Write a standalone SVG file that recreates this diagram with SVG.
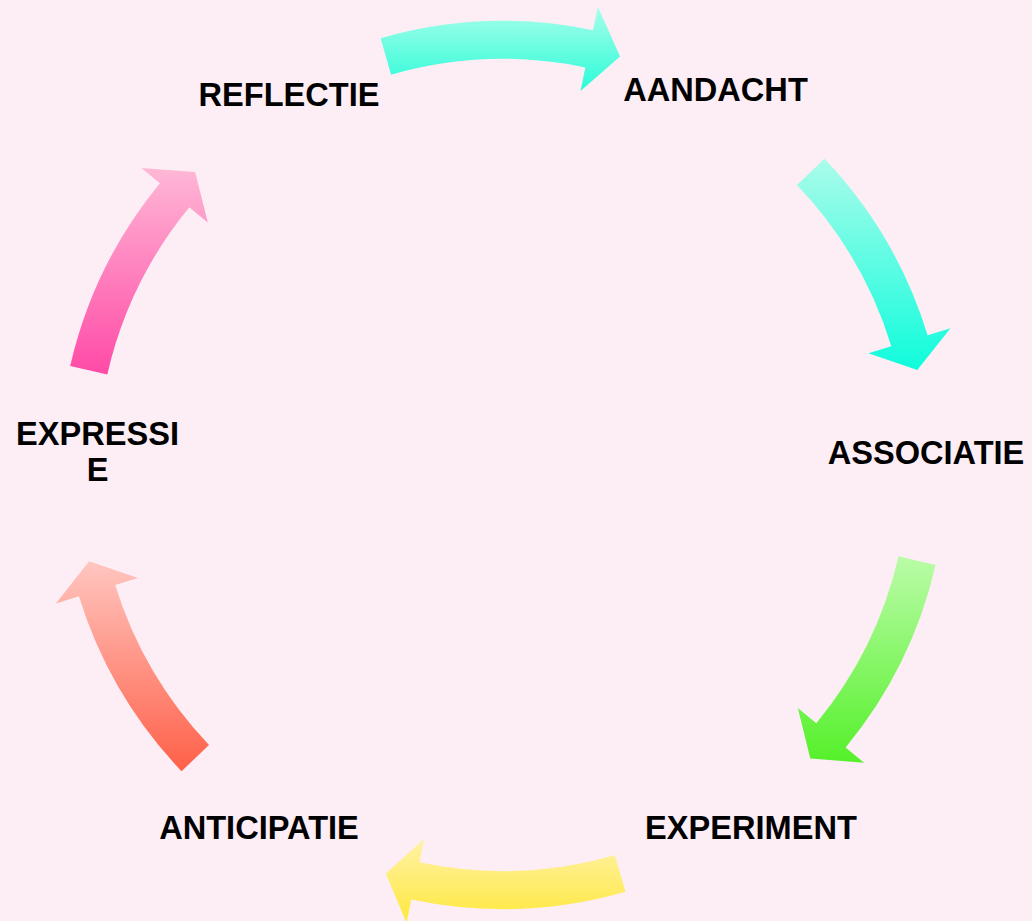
<svg xmlns="http://www.w3.org/2000/svg" width="1032" height="921" viewBox="0 0 1032 921">
<style>
.lbl{font-family:"Liberation Sans",Arial,sans-serif;font-weight:bold;font-size:32.6px;fill:#000;text-anchor:middle}
</style>
<defs>
<linearGradient id="g1" x1="0" y1="0" x2="0" y2="1"><stop offset="0" stop-color="#A8FEEA"/><stop offset="1" stop-color="#2AFCD8"/></linearGradient>
<linearGradient id="g2" x1="0" y1="0" x2="0" y2="1"><stop offset="0" stop-color="#AAFCEA"/><stop offset="1" stop-color="#0FFCDC"/></linearGradient>
<linearGradient id="g3" x1="0" y1="0" x2="0" y2="1"><stop offset="0" stop-color="#BAFCA8"/><stop offset="1" stop-color="#55F02A"/></linearGradient>
<linearGradient id="g4" x1="0" y1="0" x2="0" y2="1"><stop offset="0" stop-color="#FFF2A8"/><stop offset="1" stop-color="#FFE83C"/></linearGradient>
<linearGradient id="g5" x1="0" y1="0" x2="0" y2="1"><stop offset="0" stop-color="#FFC6C0"/><stop offset="1" stop-color="#FF6048"/></linearGradient>
<linearGradient id="g6" x1="0" y1="0" x2="0" y2="1"><stop offset="0" stop-color="#FFB8D6"/><stop offset="1" stop-color="#FF4AA6"/></linearGradient>
</defs>
<rect width="1032" height="921" fill="#FDEEF5"/>
<g id="connectors">
<path fill="url(#g1)" d="M380.6,38.2 A444,444 0 0 1 593.0,30.2 L597.9,6.7 L620.1,56.5 L580.5,90.9 L585.3,67.4 A406,406 0 0 0 391.1,74.7 Z"/>
<path fill="url(#g2)" d="M824.5,158.8 A444,444 0 0 1 927.6,335.2 L950.5,328.2 L917.3,370.1 L868.3,353.3 L891.3,346.3 A406,406 0 0 0 797.0,185.0 Z"/>
<path fill="url(#g3)" d="M935.6,564.9 A444,444 0 0 1 845.6,747.4 L864.1,762.7 L810.3,758.6 L797.8,708.0 L816.3,723.3 A406,406 0 0 0 898.6,556.3 Z"/>
<path fill="url(#g4)" d="M625.4,891.8 A444,444 0 0 1 411.4,899.5 L406.5,922.9 L385.9,873.5 L424.2,838.8 L419.3,862.3 A406,406 0 0 0 614.9,855.3 Z"/>
<path fill="url(#g5)" d="M181.5,771.2 A444,444 0 0 1 78.9,596.3 L55.9,603.4 L89.1,561.3 L138.1,578.0 L115.2,585.1 A406,406 0 0 0 209.0,745.0 Z"/>
<path fill="url(#g6)" d="M70.2,365.9 A444,444 0 0 1 159.9,183.2 L141.4,167.9 L195.2,171.9 L207.8,222.5 L189.3,207.3 A406,406 0 0 0 107.3,374.4 Z"/>
</g>
<g id="node-aandacht"><text class="lbl" x="715.5" y="101">AANDACHT</text></g>
<g id="node-associatie"><text class="lbl" x="926" y="463.5">ASSOCIATIE</text></g>
<g id="node-experiment"><text class="lbl" x="751" y="839">EXPERIMENT</text></g>
<g id="node-anticipatie"><text class="lbl" x="259" y="839">ANTICIPATIE</text></g>
<g id="node-expressie"><text class="lbl" x="97.5" y="445">EXPRESSI</text><text class="lbl" x="97.5" y="481">E</text></g>
<g id="node-reflectie"><text class="lbl" x="289" y="105.5">REFLECTIE</text></g>
</svg>
